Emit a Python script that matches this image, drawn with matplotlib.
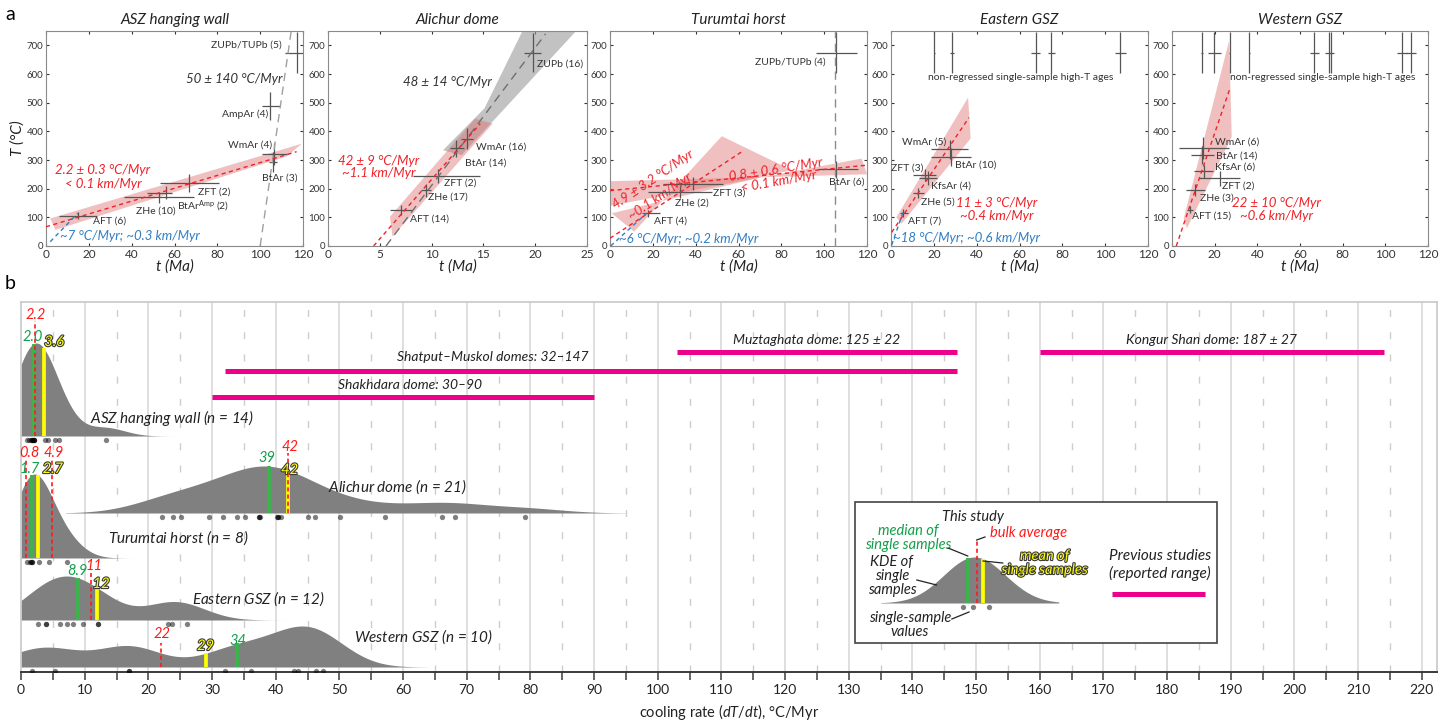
import numpy as np
import matplotlib
matplotlib.use('Agg')
import matplotlib.pyplot as plt
from matplotlib import patheffects
from matplotlib.patches import Polygon, Rectangle

plt.rcParams['font.family'] = ['Lato', 'DejaVu Sans']
plt.rcParams['mathtext.fontset'] = 'custom'
plt.rcParams['mathtext.rm'] = 'Lato'
plt.rcParams['mathtext.it'] = 'Lato:italic'

RED = '#ee2229'
BLUE = '#2f7fc4'
GREEN = '#39b54a'
GREEN_TXT = '#12a04a'
YELLOW = '#ffff00'
PINK = '#ec008c'
CROSS = '#555555'

######################################################################
# panel a data : t (Ma), T (C) ; crosses with t-/t+ and +-T errors
######################################################################

# ASZ hanging wall
asz_lab = ['ZUPb/TUPb (5)', 'AmpAr (4)', 'WmAr (4)', 'BtAr (3)', 'ZFT (2)',
           'BtAr$^{\\mathrm{Amp}}$ (2)', 'ZHe (10)', 'AFT (6)']
asz_t = [117.2, 104.7, 106.6, 106.0, 67.0, 56.0, 52.6, 14.8]
asz_tm = [5.4, 3.8, 5.7, 2.0, 13.6, 8.8, 16.0, 8.9]
asz_tp = [5.0, 4.4, 5.9, 2.0, 13.6, 2.8, 16.4, 9.0]
asz_T = [675, 488, 322, 293, 220, 186, 170, 106]
asz_dT = [70, 49, 38, 35, 32, 22, 20, 13]
asz_red_t, asz_red_T = [0, 117], [67, 329]
asz_gray_t, asz_gray_T = [100, 114.5], [0, 750]
asz_blue_t, asz_blue_T = [2, 14.8], [15, 114]
asz_band_t = [2, 119.5, 112.5, 4.4]
asz_band_T = [96, 357, 313, 56]

# Alichur dome
ali_lab = ['ZUPb (16)', 'WmAr (16)', 'BtAr (14)', 'ZFT (2)', 'ZHe (17)', 'AFT (14)']
ali_t = [19.74, 13.4, 12.4, 10.6, 9.45, 7.0]
ali_tm = [0.8, 0.55, 0.6, 2.4, 0.45, 1.0]
ali_tp = [0.8, 0.55, 0.7, 4.1, 0.45, 1.1]
ali_T = [675, 375, 341, 245, 195, 126]
ali_dT = [68, 35, 30, 25, 23, 17]
ali_red_t, ali_red_T = [4.4, 14.7], [0, 427]
ali_gray_t, ali_gray_T = [5.6, 21.0], [0, 740]
ali_band_t = [5.97, 14.2, 15.9, 6.23]
ali_band_T = [102, 444, 427, 32.5]
ali_gband_t = [11.1, 15.1, 18.8, 24.0, 12.9]
ali_gband_T = [334, 480, 752, 752, 317]

# Turumtai horst
tur_lab = ['ZUPb/TUPb (4)', 'BtAr (6)', 'ZFT (3)', 'ZHe (2)', 'AFT (4)']
tur_t = [105.7, 105.4, 38.9, 32.7, 17.9]
tur_tm = [9.6, 8.1, 14.0, 14.8, 3.1]
tur_tp = [9.6, 10.6, 14.0, 14.8, 5.4]
tur_T = [675, 267, 218, 189, 114]
tur_dT = [70, 30, 24, 21, 13]
tur_red1_t, tur_red1_T = [0, 62.2], [27, 332]
tur_red2_t, tur_red2_T = [0, 120], [193, 282]
tur_gray_t, tur_gray_T = [104.9, 104.9], [0, 750]
tur_blue_t, tur_blue_T = [0.3, 17.0], [0, 114]
tur_band1a_t, tur_band1a_T = [0.8, 24.4, 11.3], [114, 157, 50]
tur_band1b_t, tur_band1b_T = [24.4, 52.2, 84.8], [157, 383, 265]
tur_band2a_t, tur_band2a_T = [0, 71, 0], [226, 240, 140]
tur_band2b_t, tur_band2b_T = [71, 117.5, 120], [240, 305, 250]

# Eastern GSZ
egs_hiT_t = [20.2, 28.6, 67.5, 74.9, 107.1]
egs_hiT_dt = [0.3, 0.85, 2.25, 1.6, 2.5]
egs_lab = ['WmAr (5)', 'BtAr (10)', 'ZFT (3)', 'KfsAr (4)', 'ZHe (5)', 'AFT (7)']
egs_t = [27.4, 28.0, 15.8, 17.4, 12.7, 5.75]
egs_tm = [8.7, 9.3, 5.4, 4.2, 2.6, 1.5]
egs_tp = [8.7, 9.3, 5.2, 3.9, 2.6, 2.05]
egs_T = [337, 311, 247, 236, 185, 115]
egs_dT = [32, 32, 22, 24, 19, 13]
egs_red_t, egs_red_T = [0.3, 36.4], [47.6, 448]
egs_blue_t, egs_blue_T = [0.3, 5.75], [3.5, 120]
egs_band_t = [2.5, 36.0, 37.2, 5.0]
egs_band_T = [100, 518, 375, 78]

# Western GSZ
wgs_hiT_t = [14.0, 19.9, 27.0, 36.3, 66.7, 73.8, 74.3, 108.0, 112.2]
wgs_hiT_dt = [0.3, 2.9, 0.3, 0.3, 2.0, 2.1, 0.4, 2.3, 2.3]
wgs_lab = ['WmAr (6)', 'BtAr (14)', 'KfsAr (6)', 'ZFT (2)', 'ZHe (3)', 'AFT (15)']
wgs_t = [14.5, 14.0, 15.1, 22.3, 10.9, 8.3]
wgs_tm = [11.4, 5.0, 4.7, 9.8, 4.2, 1.3]
wgs_tp = [12.3, 5.5, 3.9, 9.7, 4.4, 1.5]
wgs_T = [342, 317, 261, 236, 197, 127]
wgs_dT = [38, 32, 23, 25, 21, 13]
wgs_red_t, wgs_red_T = [2.0, 27.3], [0, 553]
wgs_band_t = [5.5, 26.8, 28.0, 7.0]
wgs_band_T = [96, 717, 381, 61.5]

hiT_T, hiT_dT = 675, 70

######################################################################
# panel b data : cooling rates (C/Myr)
######################################################################
row_names = ['ASZ hanging wall', 'Alichur dome', 'Turumtai horst', 'Eastern GSZ', 'Western GSZ']
row_n = [14, 21, 8, 12, 10]
asz_rates = [0.9, 1.2, 1.5, 1.7, 1.8, 1.9, 2.0, 2.0, 2.1, 3.8, 4.2, 5.3, 6.0, 13.4]
ali_rates = [22.2, 23.9, 25.1, 29.6, 31.7, 34.0, 35.2, 37.4, 37.4, 37.6, 40.2,
             40.4, 40.4, 40.9, 45.0, 46.2, 50.1, 57.2, 66.2, 68.2, 79.2]
tur_rates = [0.9, 1.4, 1.5, 1.7, 1.8, 2.9, 4.4, 7.2]
egs_rates = [2.6, 4.0, 4.0, 6.2, 7.3, 8.1, 9.8, 12.1, 12.1, 23.1, 23.7, 26.0]
wgs_rates = [1.8, 5.4, 17.0, 17.0, 32.1, 36.1, 42.9, 43.5, 46.4, 47.5]
row_rates = [asz_rates, ali_rates, tur_rates, egs_rates, wgs_rates]
row_median = [2.0, 39, 1.7, 8.9, 34]
row_mean = [3.6, 42, 2.7, 12, 29]
row_bulk = [[2.2], [42], [0.8, 4.9], [11], [22]]
row_median_txt = ['2.0', '39', '1.7', '8.9', '34']
row_mean_txt = ['3.6', '42', '2.7', '12', '29']
row_bulk_txt = [['2.2'], ['42'], ['0.8', '4.9'], ['11'], ['22']]

prev_names = ['Muztaghata dome: 125 \u00b1 22', 'Kongur Shan dome: 187 \u00b1 27',
              'Shatput\u2013Muskol domes: 32\u2013147', 'Shakhdara dome: 30\u201390']
prev_lo = [103, 160, 32, 30]
prev_hi = [147, 214, 147, 90]

legend_rates = [147.9, 149.5, 152.0]
legend_median, legend_bulk, legend_mean = 148.7, 150.1, 151.1

# layout for panel b (y in pixel-like units above the axis line)
kde_bw = [3.0, 6.0, 2.8, 4.4, 5.0]
kde_span = [(0, 32), (7, 95), (0, 20), (0, 43), (0, 64)]
row_base = [236, 159, 114, 52, 5]
row_peak = [93, 47, 84, 44, 41]
row_label_pos = [(10.8, 254), (48.2, 185), (13.7, 134), (26.9, 73), (52.3, 35)]
bulk_top = [[351], [219], [212, 212], [99], [29]]
bulk_lpos = [[(2.3, 357)], [(42.2, 225)], [(1.4, 219), (5.1, 219)], [(11.4, 106)], [(22.1, 38)]]
median_lpos = [(1.9, 335), (38.6, 214), (1.4, 203), (8.8, 101), (34.0, 31)]
mean_lpos = [(5.2, 330), (42.2, 202), (5.0, 203), (12.6, 88), (29.0, 26)]
prev_y = [320, 320, 301.5, 275]
prev_lpos = [(125, 332), (187, 332), (74.1, 315), (61.1, 287)]


def kde(x, samples, bw):
    s = np.asarray(samples, dtype=float)
    return np.exp(-0.5 * ((x[:, None] - s[None, :]) / bw) ** 2).sum(axis=1)


def setup_a(ax, title, xmax, xticks, ylabel=False):
    ax.set_xlim(0, xmax)
    ax.set_ylim(0, 750)
    ax.set_yticks(range(0, 701, 100))
    ax.set_xticks(xticks)
    ax.tick_params(axis='y', labelsize=7, direction='in', length=2.5, pad=2,
                   colors='#333333', right=True)
    ax.tick_params(axis='x', labelsize=8.5, direction='in', length=2.5, pad=2,
                   colors='#333333', top=True)
    for sp in ax.spines.values():
        sp.set_color('#8a8a8a')
        sp.set_linewidth(0.8)
    ax.set_title(title, fontsize=11, style='italic', pad=5, color='#222222')
    ax.set_xlabel('t (Ma)', fontsize=11, style='italic', labelpad=0, color='#222222')
    if ylabel:
        ax.set_ylabel('T (\u00b0C)', fontsize=11, style='italic', labelpad=1, color='#222222')


def crosses(ax, t, tm, tp, T, dT):
    ax.errorbar(t, T, xerr=[tm, tp], yerr=dT, fmt='none', ecolor=CROSS,
                elinewidth=0.9, capsize=0, zorder=4)


def labels(ax, names, pos):
    for nm, (x, y, ha) in zip(names, pos):
        ax.text(x, y, nm, fontsize=7.5, ha=ha, va='center', color='#333333', zorder=6)


def band(ax, t, T, color='#dd6b6b', alpha=0.42):
    ax.add_patch(Polygon(np.column_stack([t, T]), closed=True, facecolor=color,
                         edgecolor='none', alpha=alpha, zorder=2))


def dline(ax, t, T, color, dashes):
    ax.plot(t, T, color=color, lw=1.0, dashes=dashes, zorder=5)


fig = plt.figure(figsize=(14.52, 7.21), dpi=100)
H = 721.0
W = 1452.0
a_left = [46, 328, 610, 891, 1172]
a_w = [257, 259, 257, 257, 256]
axs = [fig.add_axes([l / W, (H - 246) / H, w / W, 215 / H]) for l, w in zip(a_left, a_w)]
t120 = range(0, 121, 20)

# ---- ASZ hanging wall
ax = axs[0]
setup_a(ax, 'ASZ hanging wall', 120, t120, ylabel=True)
band(ax, asz_band_t, asz_band_T)
dline(ax, asz_gray_t, asz_gray_T, '#a0a0a0', (6, 4))
dline(ax, asz_red_t, asz_red_T, RED, (3, 2.5))
dline(ax, asz_blue_t, asz_blue_T, BLUE, (3, 2.5))
crosses(ax, asz_t, asz_tm, asz_tp, asz_T, asz_dT)
labels(ax, asz_lab, [(110, 700, 'right'), (104, 460, 'right'), (105.5, 352, 'right'),
                     (101, 238, 'left'), (71, 189, 'left'), (61, 140, 'left'),
                     (42, 123, 'left'), (22, 88, 'left')])
ax.text(88, 582, '50 \u00b1 140 \u00b0C/Myr', fontsize=9.5, style='italic', ha='center',
        va='center', color='#333333')
ax.text(26.2, 265, '2.2 \u00b1 0.3 \u00b0C/Myr', fontsize=9.5, style='italic', ha='center',
        va='center', color=RED)
ax.text(26.6, 218, '< 0.1 km/Myr', fontsize=9.5, style='italic', ha='center', va='center', color=RED)
ax.text(6.7, 35, '~7 \u00b0C/Myr; ~0.3 km/Myr', fontsize=9.5, style='italic', ha='left',
        va='center', color=BLUE)

# ---- Alichur dome
ax = axs[1]
setup_a(ax, 'Alichur dome', 25, range(0, 26, 5))
band(ax, ali_gband_t, ali_gband_T, color='#9a9a9a', alpha=0.6)
band(ax, ali_band_t, ali_band_T)
dline(ax, ali_gray_t, ali_gray_T, '#707070', (6, 4))
dline(ax, ali_red_t, ali_red_T, RED, (3, 2.5))
crosses(ax, ali_t, ali_tm, ali_tp, ali_T, ali_dT)
labels(ax, ali_lab, [(20.2, 636, 'left'), (14.3, 346, 'left'), (13.2, 291, 'left'),
                     (11.2, 218, 'left'), (9.7, 172, 'left'), (7.9, 94, 'left')])
ax.text(11.5, 572, '48 \u00b1 14 \u00b0C/Myr', fontsize=9.5, style='italic', ha='center',
        va='center', color='#333333')
ax.text(4.9, 297, '42 \u00b1 9 \u00b0C/Myr', fontsize=9.5, style='italic', ha='center',
        va='center', color=RED)
ax.text(4.9, 253, '~1.1 km/Myr', fontsize=9.5, style='italic', ha='center', va='center', color=RED)

# ---- Turumtai horst
ax = axs[2]
setup_a(ax, 'Turumtai horst', 120, t120)
band(ax, tur_band1a_t, tur_band1a_T)
band(ax, tur_band1b_t, tur_band1b_T)
band(ax, tur_band2a_t, tur_band2a_T)
band(ax, tur_band2b_t, tur_band2b_T)
dline(ax, tur_gray_t, tur_gray_T, '#8c8c8c', (6, 4))
dline(ax, tur_red1_t, tur_red1_T, RED, (3, 2.5))
dline(ax, tur_red2_t, tur_red2_T, RED, (3, 2.5))
dline(ax, tur_blue_t, tur_blue_T, BLUE, (3, 2.5))
crosses(ax, tur_t, tur_tm, tur_tp, tur_T, tur_dT)
labels(ax, tur_lab, [(100.7, 640, 'right'), (102.3, 224, 'left'), (48.2, 186, 'left'),
                     (38.0, 149, 'center'), (20.5, 88, 'left')])
ax.text(20.2, 232, '4.9 \u00b1 3.2 \u00b0C/Myr', fontsize=9.5, style='italic', ha='center',
        va='center', color=RED, rotation=34)
ax.text(23.5, 172, '~0.1 km/Myr', fontsize=9.5, style='italic', ha='center', va='center',
        color=RED, rotation=34)
ax.text(77.4, 268, '0.8 \u00b1 0.6 \u00b0C/Myr', fontsize=9.5, style='italic', ha='center',
        va='center', color=RED, rotation=9)
ax.text(78.6, 225, '< 0.1 km/Myr', fontsize=9.5, style='italic', ha='center', va='center',
        color=RED, rotation=10)
ax.text(4.4, 26, '~6 \u00b0C/Myr; ~0.2 km/Myr', fontsize=9.5, style='italic', ha='left',
        va='center', color=BLUE)

# ---- Eastern GSZ
ax = axs[3]
setup_a(ax, 'Eastern GSZ', 120, t120)
band(ax, egs_band_t, egs_band_T)
dline(ax, egs_red_t, egs_red_T, RED, (3, 2.5))
dline(ax, egs_blue_t, egs_blue_T, BLUE, (3, 2.5))
crosses(ax, egs_hiT_t, egs_hiT_dt, egs_hiT_dt, [hiT_T] * len(egs_hiT_t), hiT_dT)
crosses(ax, egs_t, egs_tm, egs_tp, egs_T, egs_dT)
labels(ax, egs_lab, [(25.6, 363, 'right'), (29.8, 283, 'left'), (15.1, 273, 'right'),
                     (18.6, 209, 'left'), (14.0, 154, 'left'), (7.8, 88, 'left')])
ax.text(60.6, 587, 'non-regressed single-sample high-T ages', fontsize=7.5, ha='center',
        va='center', color='#333333')
ax.text(49.3, 151, '11 \u00b1 3 \u00b0C/Myr', fontsize=9.5, style='italic', ha='center',
        va='center', color=RED)
ax.text(49.3, 104, '~0.4 km/Myr', fontsize=9.5, style='italic', ha='center', va='center', color=RED)
ax.text(1.1, 29, '~18 \u00b0C/Myr; ~0.6 km/Myr', fontsize=9.5, style='italic', ha='left',
        va='center', color=BLUE)

# ---- Western GSZ
ax = axs[4]
setup_a(ax, 'Western GSZ', 120, t120)
band(ax, wgs_band_t, wgs_band_T)
dline(ax, wgs_red_t, wgs_red_T, RED, (3, 2.5))
crosses(ax, wgs_hiT_t, wgs_hiT_dt, wgs_hiT_dt, [hiT_T] * len(wgs_hiT_t), hiT_dT)
crosses(ax, wgs_t, wgs_tm, wgs_tp, wgs_T, wgs_dT)
labels(ax, wgs_lab, [(20.3, 361, 'left'), (20.6, 315, 'left'), (20.3, 274, 'left'),
                     (23.4, 210, 'left'), (13.2, 166, 'left'), (9.4, 104, 'left')])
ax.text(70.7, 587, 'non-regressed single-sample high-T ages', fontsize=7.5, ha='center',
        va='center', color='#333333')
ax.text(48.8, 151, '22 \u00b1 10 \u00b0C/Myr', fontsize=9.5, style='italic', ha='center',
        va='center', color=RED)
ax.text(48.8, 104, '~0.6 km/Myr', fontsize=9.5, style='italic', ha='center', va='center', color=RED)

######################################################################
# panel b
######################################################################
axb = fig.add_axes([21 / W, 49 / H, 1416 / W, 370 / H])
axb.set_xlim(0, 222.4)
axb.set_ylim(0, 370)
axb.set_yticks([])
axb.set_xticks(range(0, 221, 10))
axb.set_xticks(range(5, 220, 10), minor=True)
axb.tick_params(which='both', direction='out', length=6, width=1.1, color='#3a3a3a',
                labelsize=10, pad=3, labelcolor='#222222')
for k in ['top', 'left', 'right']:
    axb.spines[k].set_color('#c8c8c8')
    axb.spines[k].set_linewidth(1.2)
axb.spines['bottom'].set_color('#3a3a3a')
axb.spines['bottom'].set_linewidth(1.4)
axb.set_xlabel('cooling rate ($dT/dt$), \u00b0C/Myr', fontsize=10.5, labelpad=4, color='#222222')

for v in range(10, 221, 10):
    axb.axvline(v, color='#d6d6d6', lw=1.1, zorder=0)
for v in range(5, 220, 10):
    axb.axvline(v, color='#cdcdcd', lw=1.0, dashes=(5, 11), zorder=0)

ystroke = [patheffects.withStroke(linewidth=1.6, foreground='#3a3a3a')]

for i in range(5):
    r = row_rates[i]
    lo, hi = kde_span[i]
    xs = np.linspace(lo, hi, 500)
    dens = kde(xs, r, kde_bw[i])
    scale = row_peak[i] / dens.max()
    base = row_base[i]
    axb.fill_between(xs, base, base + dens * scale, color='#808080', lw=0, zorder=2)
    axb.plot(r, [base - 3.5] * len(r), 'o', color='k', alpha=0.5, ms=3.8, mew=0, zorder=3)

    hm = kde(np.array([row_median[i]]), r, kde_bw[i])[0] * scale
    axb.plot([row_median[i]] * 2, [base, base + hm], color=GREEN, lw=2.7,
             solid_capstyle='butt', zorder=4)
    hy = kde(np.array([row_mean[i]]), r, kde_bw[i])[0] * scale
    axb.plot([row_mean[i]] * 2, [base, base + hy], color=YELLOW, lw=2.7,
             solid_capstyle='butt', zorder=4)
    for b, top, (lx, ly), txt in zip(row_bulk[i], bulk_top[i], bulk_lpos[i], row_bulk_txt[i]):
        axb.plot([b, b], [base, top], color='#ff1a1a', lw=1.2, dashes=(2.5, 1.8), zorder=5)
        axb.text(lx, ly, txt, color='#ff1a1a', fontsize=10.5, style='italic', ha='center',
                 va='center', zorder=6)
    axb.text(median_lpos[i][0], median_lpos[i][1], row_median_txt[i], color=GREEN_TXT,
             fontsize=10.5, style='italic', ha='center', va='center', zorder=6)
    axb.text(mean_lpos[i][0], mean_lpos[i][1], row_mean_txt[i], color=YELLOW,
             fontsize=10.5, style='italic', ha='center', va='center', zorder=6,
             path_effects=ystroke)
    axb.text(row_label_pos[i][0], row_label_pos[i][1],
             '%s ($n$ = %d)' % (row_names[i], row_n[i]), fontsize=11, style='italic',
             ha='left', va='center', color='#222222', zorder=6)

for nm, lo, hi, y, (lx, ly) in zip(prev_names, prev_lo, prev_hi, prev_y, prev_lpos):
    axb.plot([lo, hi], [y, y], color=PINK, lw=3.6, solid_capstyle='butt', zorder=5)
    axb.text(lx, ly, nm, fontsize=10, style='italic', ha='center', va='center',
             color='#222222', zorder=6)

# legend box
axb.add_patch(Rectangle((131, 29), 56.8, 141, facecolor='white', edgecolor='#444444',
                        lw=1.2, zorder=7))
xs = np.linspace(135, 163, 300)
dens = kde(xs, legend_rates, 4.5)
lscale = 46 / dens.max()
axb.fill_between(xs, 69, 69 + dens * lscale, color='#808080', lw=0, zorder=8)
axb.plot(legend_rates, [65] * 3, 'o', color='k', alpha=0.5, ms=3.8, mew=0, zorder=8)
hm = kde(np.array([legend_median]), legend_rates, 4.5)[0] * lscale
hy = kde(np.array([legend_mean]), legend_rates, 4.5)[0] * lscale
axb.plot([legend_median] * 2, [69, 69 + hm], color=GREEN, lw=2.7, solid_capstyle='butt', zorder=9)
axb.plot([legend_mean] * 2, [69, 69 + hy], color=YELLOW, lw=2.7, solid_capstyle='butt', zorder=9)
axb.plot([legend_bulk] * 2, [69, 133], color='#ff1a1a', lw=1.2, dashes=(2.5, 1.8), zorder=10)

leg_kw = dict(fontsize=10.5, style='italic', ha='center', va='center', zorder=10, linespacing=1.0)
axb.text(149.5, 155, 'This study', color='#222222', **leg_kw)
axb.text(139.3, 134, 'median of\nsingle samples', color=GREEN_TXT, **leg_kw)
axb.text(152.2, 139, 'bulk average', color='#ff1a1a', fontsize=10.5, style='italic',
         ha='left', va='center', zorder=10)
axb.text(160.8, 109, 'mean of\nsingle samples', color=YELLOW, path_effects=ystroke, **leg_kw)
axb.text(136.8, 96, 'KDE of\nsingle\nsamples', color='#222222', **leg_kw)
axb.text(139.6, 47, 'single-sample\nvalues', color='#222222', **leg_kw)
axb.text(178.9, 107, 'Previous studies\n(reported range)', color='#222222', fontsize=11,
         style='italic', ha='center', va='center', zorder=10, linespacing=1.3)
axb.plot([171.3, 185.9], [78, 78], color=PINK, lw=3.6, solid_capstyle='butt', zorder=10)
for (x0, y0), (x1, y1) in [((145.6, 124), (148.7, 116)), ((151.4, 135), (150.1, 132)),
                           ((154.2, 109), (151.1, 111)), ((140.7, 92), (143.8, 87)),
                           ((146.2, 53), (148.9, 60))]:
    axb.plot([x0, x1], [y0, y1], color='#222222', lw=0.9, zorder=10)

fig.text(10 / W, 1 - 14 / H, 'a', fontsize=14, ha='center', va='center')
fig.text(10 / W, 1 - 283 / H, 'b', fontsize=14, ha='center', va='center')

fig.savefig('out.png', dpi=100)
